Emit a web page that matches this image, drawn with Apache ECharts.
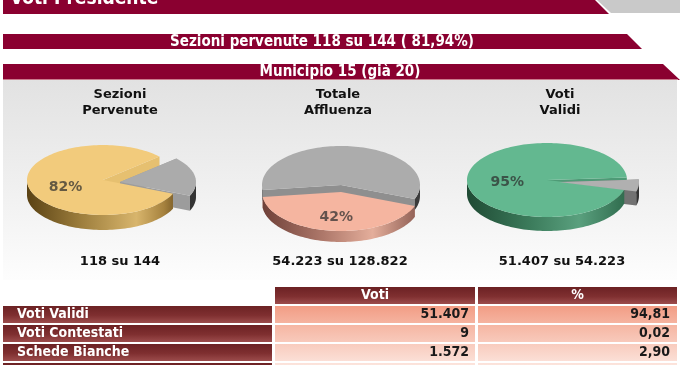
<!DOCTYPE html>
<html><head><meta charset="utf-8">
<script src="https://cdn.jsdelivr.net/npm/echarts@6/dist/echarts.min.js"></script>
<style>html,body{margin:0;padding:0;background:#fff}#c{width:680px;height:365px}</style>
</head><body><div id="c"></div>
<script>
// ---- data ----
const mainTitle = 'Voti Presidente';
const sectionTitle = 'Sezioni pervenute 118 su 144 ( 81,94%)';
const areaTitle = 'Municipio 15 (già 20)';
const pieTitles = ['Sezioni\nPervenute', 'Totale\nAffluenza', 'Voti\nValidi'];
const pieParts = [118, 54223, 51407];
const pieTotals = [144, 128822, 54223];
const tableHeaders = ['Voti', '%'];
const rowLabels = ['Voti Validi', 'Voti Contestati', 'Schede Bianche'];
const rowVotes = [51407, 9, 1572];
const rowPct = [94.81, 0.02, 2.90];

// ---- helpers ----
function fmtInt(n) { return String(n).replace(/\B(?=(\d{3})+(?!\d))/g, '.'); }
function fmtDec(n) { return n.toFixed(2).replace('.', ','); }
const LG = echarts.graphic.LinearGradient;
const CF = '"DejaVu Sans Condensed","DejaVu Sans",sans-serif';
const VF = '"DejaVu Sans",Verdana,sans-serif';
const RED = '#8a0030';

function hGrad(x0, x1, stops) { return new LG(x0, 0, x1, 0, stops.map(s => ({offset: s[0], color: s[1]})), true); }

const pieLayout = [
  {cx: 103, cy: 180, rx: 76, ry: 35, depth: 15, start: 23, explode: [[0, 0], [17, 2]],
   top: ['#f2cb7c', '#ababab'], cut: ['#e6c070', '#9c9c9c'],
   wall: [[[0, '#5a4214'], [0.35, '#9c7d3c'], [0.72, '#d8b56c'], [0.9, '#a6823e'], [1, '#6e5220']], [[0, '#444'], [1, '#333']]],
   titleX: 120, capX: 120},
  {cx: 341, cy: 192, rx: 79, ry: 39, depth: 11, start: 21, explode: [[0, 0], [0, -7]],
   top: ['#f5b5a0', '#acacac'], cut: ['#c88878', '#8f8f8f'],
   wall: [[[0, '#6e4038'], [0.4, '#b07a6c'], [0.7, '#e4ae9b'], [1, '#8a5a50']], [[0, '#555'], [1, '#3a3a3a']]],
   titleX: 338, capX: 340},
  {cx: 547, cy: 180, rx: 80, ry: 37, depth: 14, start: 15, explode: [[0, 0], [12, 2]],
   top: ['#63b890', '#b0b0b0'], cut: ['#4e9a76', '#727272'],
   wall: [[[0, '#1f4a34'], [0.4, '#3c7c5c'], [0.7, '#5aa07e'], [1, '#2e6a4c']], [[0, '#444'], [1, '#333']]],
   titleX: 560, capX: 562}
];

function pieSeries(k) {
  const L = pieLayout[k];
  const vals = [pieParts[k], pieTotals[k] - pieParts[k]];
  const sum = vals[0] + vals[1];
  const angles = []; let a = L.start;
  vals.forEach(v => { const b = a + v / sum * 360; angles.push([a, b]); a = b; });
  return {
    type: 'custom', coordinateSystem: 'none', silent: true, animation: false,
    data: vals,
    renderItem(params, api) {
      const i = params.dataIndex;
      const a0 = angles[i][0], a1 = angles[i][1];
      const ox = L.explode[i][0], oy = L.explode[i][1];
      const cx = L.cx + ox, cy = L.cy + oy;
      const pt = (deg) => { const r = deg * Math.PI / 180; return [cx + L.rx * Math.cos(r), cy + L.ry * Math.sin(r)]; };
      const ch = [];
      [a0, a1].forEach(d => {
        const p = pt(d);
        ch.push({type: 'polygon', z2: 2, shape: {points: [[cx, cy], p, [p[0], p[1] + L.depth], [cx, cy + L.depth]]}, style: {fill: L.cut[i]}});
      });
      for (let base = Math.floor(a0 / 360) * 360; base < a1; base += 360) {
        const s = Math.max(a0, base), e = Math.min(a1, base + 180);
        if (e > s) {
          const up = [];
          for (let d = s; d < e; d += 2) up.push(pt(d));
          up.push(pt(e));
          const poly = up.concat(up.slice().reverse().map(p => [p[0], p[1] + L.depth]));
          ch.push({type: 'polygon', z2: 3, shape: {points: poly}, style: {fill: hGrad(cx - L.rx, cx + L.rx, L.wall[i])}});
        }
      }
      const topPts = [[cx, cy]];
      for (let d = a0; d < a1; d += 2) topPts.push(pt(d));
      topPts.push(pt(a1));
      ch.push({type: 'polygon', z2: 10, shape: {points: topPts}, style: {fill: L.top[i]}});
      if (i === 0) {
        const mid = (a0 + a1) / 2 * Math.PI / 180;
        ch.push({type: 'text', z2: 20, x: cx + 0.5 * L.rx * Math.cos(mid), y: cy + 0.55 * L.ry * Math.sin(mid) + 4,
          style: {text: Math.round(vals[0] / sum * 100) + '%', fill: 'rgba(45,45,45,0.72)', font: 'bold 14px ' + VF, align: 'center', verticalAlign: 'middle'}});
      }
      return {type: 'group', children: ch};
    }
  };
}

// ---- static graphics ----
const g = [];
// top banner
g.push({type: 'polygon', shape: {points: [[597, 0], [680, 0], [680, 13], [611, 13]]}, style: {fill: '#c9c9c9'}});
g.push({type: 'polygon', shape: {points: [[3, 0], [595, 0], [609, 14], [3, 14]]}, style: {fill: RED}});
g.push({type: 'text', x: 10, y: 9, style: {text: mainTitle, fill: '#fff', font: 'bold 19px ' + CF, align: 'left', verticalAlign: 'bottom'}});
// second banner
g.push({type: 'polygon', shape: {points: [[3, 34], [627, 34], [642, 49], [3, 49]]}, style: {fill: RED}});
g.push({type: 'text', x: 322, y: 42, style: {text: sectionTitle, fill: '#fff', font: 'bold 15px ' + CF, align: 'center', verticalAlign: 'middle'}});
// third banner
g.push({type: 'polygon', shape: {points: [[3, 64], [663, 64], [680, 80], [3, 80]]}, style: {fill: RED}});
g.push({type: 'rect', shape: {x: 3, y: 79, width: 675, height: 1}, style: {fill: '#c97a8c'}});
g.push({type: 'text', x: 340, y: 72, style: {text: areaTitle, fill: '#fff', font: 'bold 15px ' + CF, align: 'center', verticalAlign: 'middle'}});
// panel
g.push({type: 'rect', shape: {x: 3, y: 80, width: 674, height: 200},
  style: {fill: new LG(0, 0, 0, 1, [{offset: 0, color: '#e2e2e2'}, {offset: 0.5, color: '#efefef'}, {offset: 1, color: '#fdfdfd'}])}});
// pie titles and captions
pieLayout.forEach((L, k) => {
  g.push({type: 'text', x: L.titleX, y: 103, z: 5, style: {text: pieTitles[k], fill: '#111', font: 'bold 13px ' + VF, lineHeight: 16, align: 'center', verticalAlign: 'middle'}});
  g.push({type: 'text', x: L.capX, y: 262, z: 5, style: {text: fmtInt(pieParts[k]) + ' su ' + fmtInt(pieTotals[k]), fill: '#111', font: 'bold 13px ' + VF, align: 'center', verticalAlign: 'middle'}});
});
// table
const colX = [275, 478], colW = [200, 199];
const darkGrad = (y, h) => new LG(0, y, 0, y + h, [{offset: 0, color: '#6c2224'}, {offset: 0.55, color: '#7f2f30'}, {offset: 1, color: '#9c4c4c'}], true);
const lightGrad = new LG(0, 306, 0, 381, [{offset: 0, color: '#f29d85'}, {offset: 0.3, color: '#f6baa8'}, {offset: 0.65, color: '#fad8cd'}, {offset: 1, color: '#fff6f3'}], true);
tableHeaders.forEach((h, j) => {
  g.push({type: 'rect', shape: {x: colX[j], y: 287, width: colW[j], height: 17}, style: {fill: darkGrad(287, 17)}});
  g.push({type: 'text', x: colX[j] + colW[j] / 2, y: 295.5, style: {text: h, fill: '#fff', font: 'bold 14px ' + CF, align: 'center', verticalAlign: 'middle'}});
});
for (let i = 0; i <= rowLabels.length; i++) {
  const y = 306 + i * 19;
  g.push({type: 'rect', shape: {x: 3, y: y, width: 269, height: 17}, style: {fill: darkGrad(y, 17)}});
  colX.forEach((x, j) => g.push({type: 'rect', shape: {x: x, y: y, width: colW[j], height: 17}, style: {fill: lightGrad}}));
  if (i < rowLabels.length) {
    g.push({type: 'text', x: 17, y: y + 8.5, style: {text: rowLabels[i], fill: '#fff', font: 'bold 14px ' + CF, align: 'left', verticalAlign: 'middle'}});
    g.push({type: 'text', x: 469, y: y + 8.5, style: {text: fmtInt(rowVotes[i]), fill: '#1a1a1a', font: 'bold 14px ' + CF, align: 'right', verticalAlign: 'middle'}});
    g.push({type: 'text', x: 670, y: y + 8.5, style: {text: fmtDec(rowPct[i]), fill: '#1a1a1a', font: 'bold 14px ' + CF, align: 'right', verticalAlign: 'middle'}});
  }
}

const chart = echarts.init(document.getElementById('c'), null, {renderer: 'canvas'});
chart.setOption({
  animation: false,
  backgroundColor: '#fff',
  graphic: {elements: g},
  series: [pieSeries(0), pieSeries(1), pieSeries(2)]
});
</script></body></html>
